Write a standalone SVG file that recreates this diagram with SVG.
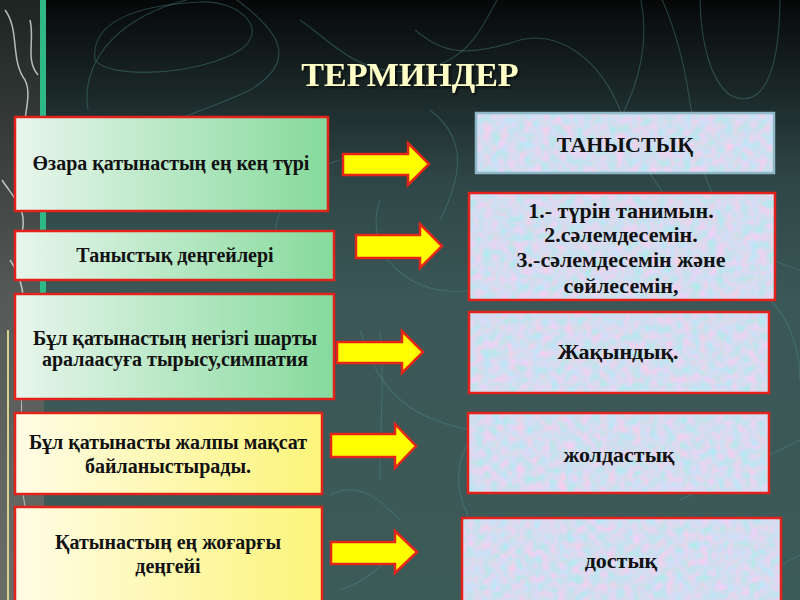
<svg xmlns="http://www.w3.org/2000/svg" width="800" height="600" viewBox="0 0 800 600">
<defs>
<linearGradient id="bg" x1="0" y1="0" x2="0" y2="1">
<stop offset="0" stop-color="#060808"/>
<stop offset="0.3" stop-color="#2f4646"/>
<stop offset="0.5" stop-color="#3b5757"/>
<stop offset="1" stop-color="#3c5a58"/>
</linearGradient>
<linearGradient id="green" x1="0" y1="0" x2="1" y2="0">
<stop offset="0" stop-color="#e8f5ec"/>
<stop offset="1" stop-color="#86da9c"/>
</linearGradient>
<linearGradient id="yellow" x1="0" y1="0" x2="1" y2="0">
<stop offset="0" stop-color="#fffce6"/>
<stop offset="1" stop-color="#fcf47a"/>
</linearGradient>
<linearGradient id="strip" x1="0" y1="0" x2="0" y2="1">
<stop offset="0" stop-color="#1e2422"/>
<stop offset="0.5" stop-color="#555a58"/>
<stop offset="1" stop-color="#6a6c66"/>
</linearGradient>
<filter id="tex" x="0" y="0" width="1" height="1" color-interpolation-filters="sRGB">
<feTurbulence type="fractalNoise" baseFrequency="0.12" numOctaves="3" seed="4" result="n"/>
<feColorMatrix in="n" type="matrix" values="0.4 0 0 0 0.63  -0.15 0 0 0 0.94  0 0 0.1 0 0.89  0 0 0 0 1" result="c"/>
<feComposite in="c" in2="SourceGraphic" operator="in"/>
</filter>
<filter id="shadow" x="-10%" y="-30%" width="120%" height="160%">
<feDropShadow dx="2" dy="2" stdDeviation="1" flood-color="#000" flood-opacity="0.6"/>
</filter>
<style>
.lbox{stroke:#e3231b;stroke-width:2.5}
.rbox{stroke:#e3231b;stroke-width:2.5}
.arrow{fill:#ffff00;stroke:#e4261a;stroke-width:2.5;stroke-linejoin:miter}
.t{font-family:"Liberation Serif","Times New Roman",serif;font-weight:bold;font-size:20px;fill:#111;text-anchor:middle}
.r{font-size:22px}
.topo{fill:none;stroke:#4f8e8e;stroke-width:1.1;opacity:0.4}
</style>
</defs>
<rect width="800" height="600" fill="url(#bg)"/>
<g id="contours">
<path class="topo" d="M95 60 C90 20 140 5 200 2 C240 0 270 30 240 50 C200 75 110 80 95 60 Z"/>
<path class="topo" d="M88 110 C80 60 120 10 210 -5"/>
<path class="topo" d="M230 -5 C280 30 300 60 250 90 C200 115 150 120 120 160"/>
<path class="topo" d="M300 20 C330 40 360 80 420 70 C470 60 480 30 500 -5"/>
<path class="topo" d="M415 30 C440 50 460 60 520 40 C560 30 600 60 620 110 C640 160 660 200 700 230"/>
<path class="topo" d="M640 -5 C650 40 640 80 620 120"/>
<path class="topo" d="M700 -5 C700 40 710 80 730 95 C760 110 780 80 780 -5"/>
<path class="topo" d="M660 -5 C690 60 690 120 700 160 C720 230 760 260 800 270"/>
<path class="topo" d="M430 110 C470 140 460 180 440 220"/>
<path class="topo" d="M340 160 C300 170 260 220 280 260"/>
<path class="topo" d="M380 200 C360 260 420 300 470 290"/>
<path class="topo" d="M360 330 C380 400 420 420 470 430"/>
<path class="topo" d="M380 330 C385 380 380 420 380 480"/>
<path class="topo" d="M330 495 C360 480 380 500 400 520"/>
<path class="topo" d="M340 590 C370 580 390 560 400 540"/>
<path class="topo" d="M470 520 C460 500 450 470 470 440"/>
<path class="topo" d="M770 300 C790 320 800 350 800 380"/>
<path class="topo" d="M680 500 C720 480 760 460 800 440"/>
<path class="topo" d="M750 590 C770 570 790 560 800 555"/>
</g>
<g id="left-strip">
<rect x="0" y="0" width="44" height="600" fill="url(#strip)"/>
<rect x="40" y="0" width="6" height="320" fill="#2fb987"/>
<path d="M5 10 C20 30 10 60 25 80 C35 100 15 130 30 150 M2 180 C15 200 30 210 20 240 M10 260 C25 280 30 320 15 350 M30 20 C35 40 25 60 38 75" fill="none" stroke="#d8e2e0" stroke-width="1.5" opacity="0.8"/>
<path d="M8 330 L8 600" stroke="#f2ec9a" stroke-width="2" opacity="0.8"/>
<path d="M20 380 C25 420 15 470 28 520 C34 550 20 580 26 600" fill="none" stroke="#e6e6e0" stroke-width="1" opacity="0.7"/>
</g>
<text x="410" y="86" font-family="'Liberation Serif','Times New Roman',serif" font-weight="bold" font-size="34" fill="#ffffc8" text-anchor="middle" filter="url(#shadow)">ТЕРМИНДЕР</text>

<g id="l1"><rect class="lbox" x="15" y="117" width="313" height="94" fill="url(#green)"/><text class="t" x="171" y="170">Өзара қатынастың ең кең түрі</text></g>
<g id="l2"><rect class="lbox" x="15" y="231" width="319" height="49" fill="url(#green)"/><text class="t" x="175" y="262" font-size="22">Таныстық деңгейлері</text></g>
<g id="l3"><rect class="lbox" x="15" y="294" width="319" height="105" fill="url(#green)"/><text class="t" x="175" y="345">Бұл қатынастың негізгі шарты</text><text class="t" x="175" y="366">аралаасуға тырысу,симпатия</text></g>
<g id="l4"><rect class="lbox" x="15" y="413" width="307" height="81" fill="url(#yellow)"/><text class="t" x="168" y="449">Бұл қатынасты жалпы мақсат</text><text class="t" x="168" y="473">байланыстырады.</text></g>
<g id="l5"><rect class="lbox" x="15" y="507" width="307" height="96" fill="url(#yellow)"/><text class="t" x="168" y="549">Қатынастың ең жоғарғы</text><text class="t" x="168" y="573">деңгейі</text></g>

<g id="connectors">
<polygon class="arrow" points="343,154 408,154 408,143 429,164 408,185 408,175 343,175"/>
<polygon class="arrow" points="356,235 420,235 420,224 442,246 420,268 420,258 356,258"/>
<polygon class="arrow" points="337,342 402,342 402,331 423,352 402,373 402,363 337,363"/>
<polygon class="arrow" points="331,434 395,434 395,424 416,446 395,468 395,457 331,457"/>
<polygon class="arrow" points="331,542 395,542 395,531 417,552 395,573 395,564 331,564"/>
</g>

<g id="r1"><rect x="476" y="113" width="298" height="60" fill="#d4e0f2" filter="url(#tex)"/><rect x="476" y="113" width="298" height="60" fill="none" stroke="#8fb8c8" stroke-width="2.5"/><text class="t r" x="625" y="152">ТАНЫСТЫҚ</text></g>
<g id="r2"><rect x="469" y="193" width="306" height="107" fill="#d4e0f2" filter="url(#tex)"/><rect class="rbox" x="469" y="193" width="306" height="107" fill="none"/><text class="t r" x="621" y="218">1.- түрін танимын.</text><text class="t r" x="621" y="242">2.сәлемдесемін.</text><text class="t r" x="621" y="267">3.-сәлемдесемін және</text><text class="t r" x="621" y="293">сөйлесемін,</text></g>
<g id="r3"><rect x="469" y="312" width="300" height="81" fill="#d4e0f2" filter="url(#tex)"/><rect class="rbox" x="469" y="312" width="300" height="81" fill="none"/><text class="t r" x="618" y="359">Жақындық.</text></g>
<g id="r4"><rect x="468" y="413" width="301" height="80" fill="#d4e0f2" filter="url(#tex)"/><rect class="rbox" x="468" y="413" width="301" height="80" fill="none"/><text class="t r" x="619" y="462">жолдастық</text></g>
<g id="r5"><rect x="462" y="518" width="319" height="85" fill="#d4e0f2" filter="url(#tex)"/><rect class="rbox" x="462" y="518" width="319" height="85" fill="none"/><text class="t r" x="621" y="568">достық</text></g>
</svg>
